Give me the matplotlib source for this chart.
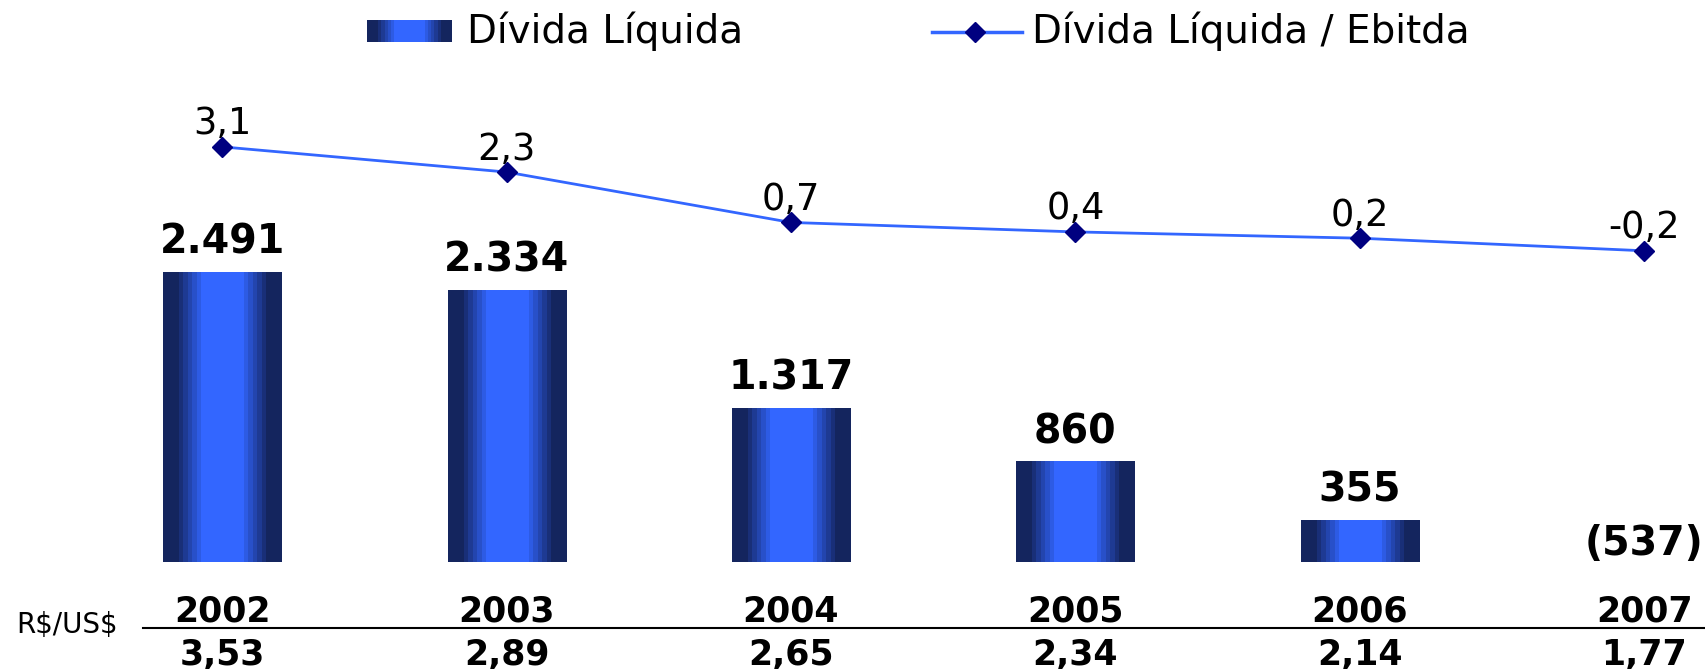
import numpy as np
import matplotlib
matplotlib.use("Agg")
import matplotlib.pyplot as plt
from matplotlib.lines import Line2D
from matplotlib.transforms import blended_transform_factory

# ---- data ----
years = ["2002", "2003", "2004", "2005", "2006", "2007"]
divida_liquida = [2491, 2334, 1317, 860, 355, -537]
divida_labels = ["2.491", "2.334", "1.317", "860", "355", "(537)"]
divida_ebitda = [3.1, 2.3, 0.7, 0.4, 0.2, -0.2]
ebitda_labels = ["3,1", "2,3", "0,7", "0,4", "0,2", "-0,2"]
cambio = ["3,53", "2,89", "2,65", "2,34", "2,14", "1,77"]

W, H = 1706, 669
fig = plt.figure(figsize=(W / 100, H / 100), dpi=100)


def fx(px):
    return px / W


def fy(py):
    return 1 - py / H


# gradient (horizontal, dark edges -> bright centre)
edge = np.array([0x14, 0x25, 0x5e]) / 255
centre = np.array([0x33, 0x66, 0xff]) / 255
n = 120
t = np.linspace(0, 1, n)
d = np.abs(t - 0.5) * 2
s = np.clip((d - 0.33) / (0.78 - 0.33), 0, 1)
s = np.round(s * 6) / 6
grad = centre[None, :] * (1 - s[:, None]) + edge[None, :] * s[:, None]
grad = grad[None, :, :]

ax_left, ax_right, ax_top, ax_bot = 80, 1701, 70, 562
ax = fig.add_axes([fx(ax_left), fy(ax_bot), (ax_right - ax_left) / W, (ax_bot - ax_top) / H])
x = np.arange(len(years))
bars = ax.bar(x, divida_liquida, width=0.415, color="none", zorder=2)
for b in bars:
    h = b.get_height()
    if h > 0:
        x0 = b.get_x()
        ax.imshow(grad, extent=[x0, x0 + b.get_width(), 0, h], aspect="auto",
                  interpolation="nearest", zorder=3)
ax.set_xlim(-0.5, 5.2)
ax.set_ylim(0, 4227)
ax.axis("off")

for xi, v, lbl in zip(x, divida_liquida, divida_labels):
    off = 13.5 if v > 0 else 5
    ax.annotate(lbl, (xi, max(v, 0)), xytext=(0, off), textcoords="offset points",
                ha="center", va="baseline", fontsize=28.5, fontweight="bold",
                color="black", zorder=5)

ax2 = ax.twinx()
ax2.set_ylim(-10.08, 5.54)
ax2.set_xlim(-0.5, 5.2)
ax2.axis("off")
ax2.plot(x, divida_ebitda, color="#3366ff", lw=2, marker="D", ms=10.5,
         mfc="#000080", mec="#000080", zorder=4)
for xi, v, lbl in zip(x, divida_ebitda, ebitda_labels):
    ax2.annotate(lbl, (xi, v), xytext=(0, 9), textcoords="offset points",
                 ha="center", va="baseline", fontsize=26.5, color="black")

# category labels below
tr = blended_transform_factory(ax.transData, fig.transFigure)
for xi, yr, rate in zip(x, years, cambio):
    ax.text(xi, fy(621), yr, transform=tr, ha="center", va="baseline",
            fontsize=25, fontweight="bold", color="black", clip_on=False)
    ax.text(xi, fy(665), rate, transform=tr, ha="center", va="baseline",
            fontsize=25, fontweight="bold", color="black", clip_on=False)

fig.add_artist(Line2D([fx(143), 1.0], [fy(628), fy(628)], color="black", lw=1.5))
fig.text(fx(16), fy(625), "R\\$/US\\$", ha="left", va="center", fontsize=20, color="black")

# legend
lax = fig.add_axes([fx(367), fy(42), fx(452 - 367), (42 - 20) / H])
lax.imshow(grad, aspect="auto", interpolation="nearest")
lax.axis("off")
fig.text(fx(467), fy(31), "Dívida Líquida", ha="left", va="center", fontsize=28, color="black")
fig.add_artist(Line2D([fx(932), fx(1022)], [fy(32), fy(32)], color="#3366ff", lw=2.5))
fig.add_artist(Line2D([fx(975)], [fy(32)], marker="D", ms=10.5, mfc="#000080",
                      mec="#000080", lw=0))
fig.text(fx(1032), fy(31), "Dívida Líquida / Ebitda", ha="left", va="center",
         fontsize=28, color="black")

fig.savefig("out.png", dpi=100)
